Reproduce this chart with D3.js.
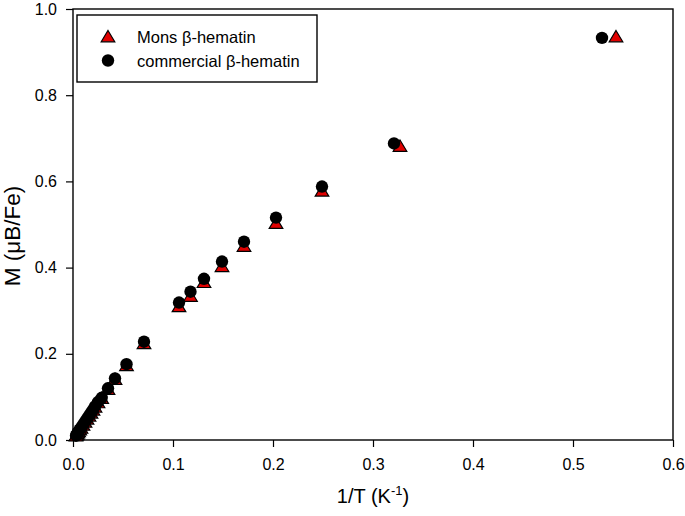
<!DOCTYPE html>
<html><head><meta charset="utf-8">
<script src="https://cdn.jsdelivr.net/npm/d3@7"></script>
<style>body{margin:0;background:#fff}svg{display:block}text{font-family:"Liberation Sans",Arial,sans-serif;fill:#000}</style>
</head><body><svg id="c" width="685" height="516"></svg>
<script>
const xTicks = [0.0, 0.1, 0.2, 0.3, 0.4, 0.5, 0.6];
const yTicks = [0.0, 0.2, 0.4, 0.6, 0.8, 1.0];
const seriesNames = ["Mons \u03b2-hematin", "commercial \u03b2-hematin"];
const monsX = [0.543, 0.327, 0.249, 0.203, 0.171, 0.149, 0.131, 0.1175, 0.106, 0.071, 0.0535, 0.042, 0.035, 0.0287,
  0.025, 0.022, 0.020, 0.018, 0.016, 0.014, 0.012, 0.010, 0.008, 0.0067, 0.0056, 0.0048, 0.0042, 0.0036, 0.003];
const monsY = [0.935, 0.681, 0.577, 0.502, 0.449, 0.402, 0.365, 0.333, 0.309, 0.223, 0.172, 0.140, 0.117, 0.096,
  0.086, 0.076, 0.069, 0.062, 0.055, 0.048, 0.041, 0.034, 0.027, 0.023, 0.019, 0.016, 0.013, 0.011, 0.009];
const commX = [0.529, 0.321, 0.249, 0.203, 0.171, 0.149, 0.131, 0.1175, 0.106, 0.071, 0.0535, 0.042, 0.035, 0.0287,
  0.025, 0.022, 0.020, 0.018, 0.016, 0.014, 0.012, 0.010, 0.008, 0.0067, 0.0056, 0.0048, 0.0042, 0.0036, 0.003];
const commY = [0.933, 0.688, 0.588, 0.516, 0.460, 0.414, 0.374, 0.344, 0.319, 0.228, 0.176, 0.143, 0.120, 0.098,
  0.088, 0.078, 0.070, 0.063, 0.056, 0.049, 0.042, 0.035, 0.028, 0.024, 0.020, 0.017, 0.014, 0.012, 0.010];

const svg = d3.select("#c");
const L = 73, R = 673, T = 9, B = 440;
const x = d3.scaleLinear().domain([0, 0.6]).range([L, R]);
const y = d3.scaleLinear().domain([0, 1.0]).range([B, T]);

// axes
const xa = svg.append("g").attr("transform", `translate(0,${B})`)
  .call(d3.axisBottom(x).tickValues(xTicks).tickFormat(d3.format(".1f")).tickSizeOuter(0).tickSize(7).tickPadding(12));
const ya = svg.append("g").attr("transform", `translate(${L},0)`)
  .call(d3.axisLeft(y).tickValues(yTicks).tickFormat(d3.format(".1f")).tickSizeOuter(0).tickSize(7).tickPadding(9));
[xa, ya].forEach(g => {
  g.selectAll("text").style("font-size", "16px").style("font-family", "'Liberation Sans', Arial, sans-serif").attr("fill", "#000");
  g.selectAll("line").attr("stroke", "#000").attr("stroke-width", 1.2);
  g.select(".domain").remove();
});
svg.append("rect").attr("x", L).attr("y", T).attr("width", R - L).attr("height", B - T)
  .attr("fill", "none").attr("stroke", "#000").attr("stroke-width", 1.4);

// axis titles
svg.append("text").attr("x", (L + R) / 2).attr("y", 503).attr("text-anchor", "middle").style("font-size", "20px")
  .html('1/T (K<tspan dy="-8" font-size="13px">-1</tspan><tspan dy="8">)</tspan>');
svg.append("text").attr("transform", `translate(20,236) rotate(-90)`).attr("text-anchor", "middle").style("font-size", "22.5px")
  .text("M (\u03bcB/Fe)");

const tri = (cx, cy) => `M${cx},${cy - 6.5}L${cx + 6.8},${cy + 4.8}L${cx - 6.8},${cy + 4.8}Z`;

// Mons series (triangles)
svg.append("g").selectAll("path").data(monsX.map((v, i) => [v, monsY[i]])).join("path")
  .attr("d", d => tri(x(d[0]), y(d[1]))).attr("fill", "#e00000").attr("stroke", "#000").attr("stroke-width", 1.2);
// commercial series (circles)
svg.append("g").selectAll("circle").data(commX.map((v, i) => [v, commY[i]])).join("circle")
  .attr("cx", d => x(d[0])).attr("cy", d => y(d[1])).attr("r", 6.2).attr("fill", "#000");

// legend
const lg = svg.append("g");
lg.append("rect").attr("x", 77).attr("y", 15).attr("width", 240).attr("height", 67)
  .attr("fill", "#fff").attr("stroke", "#000").attr("stroke-width", 1.4);
lg.append("path").attr("d", tri(108, 37)).attr("fill", "#e00000").attr("stroke", "#000").attr("stroke-width", 1.2);
lg.append("circle").attr("cx", 108).attr("cy", 60.5).attr("r", 6.2).attr("fill", "#000");
lg.append("text").attr("x", 137).attr("y", 43).style("font-size", "16.5px").text(seriesNames[0]);
lg.append("text").attr("x", 137).attr("y", 67).style("font-size", "16.5px").text(seriesNames[1]);
</script></body></html>
